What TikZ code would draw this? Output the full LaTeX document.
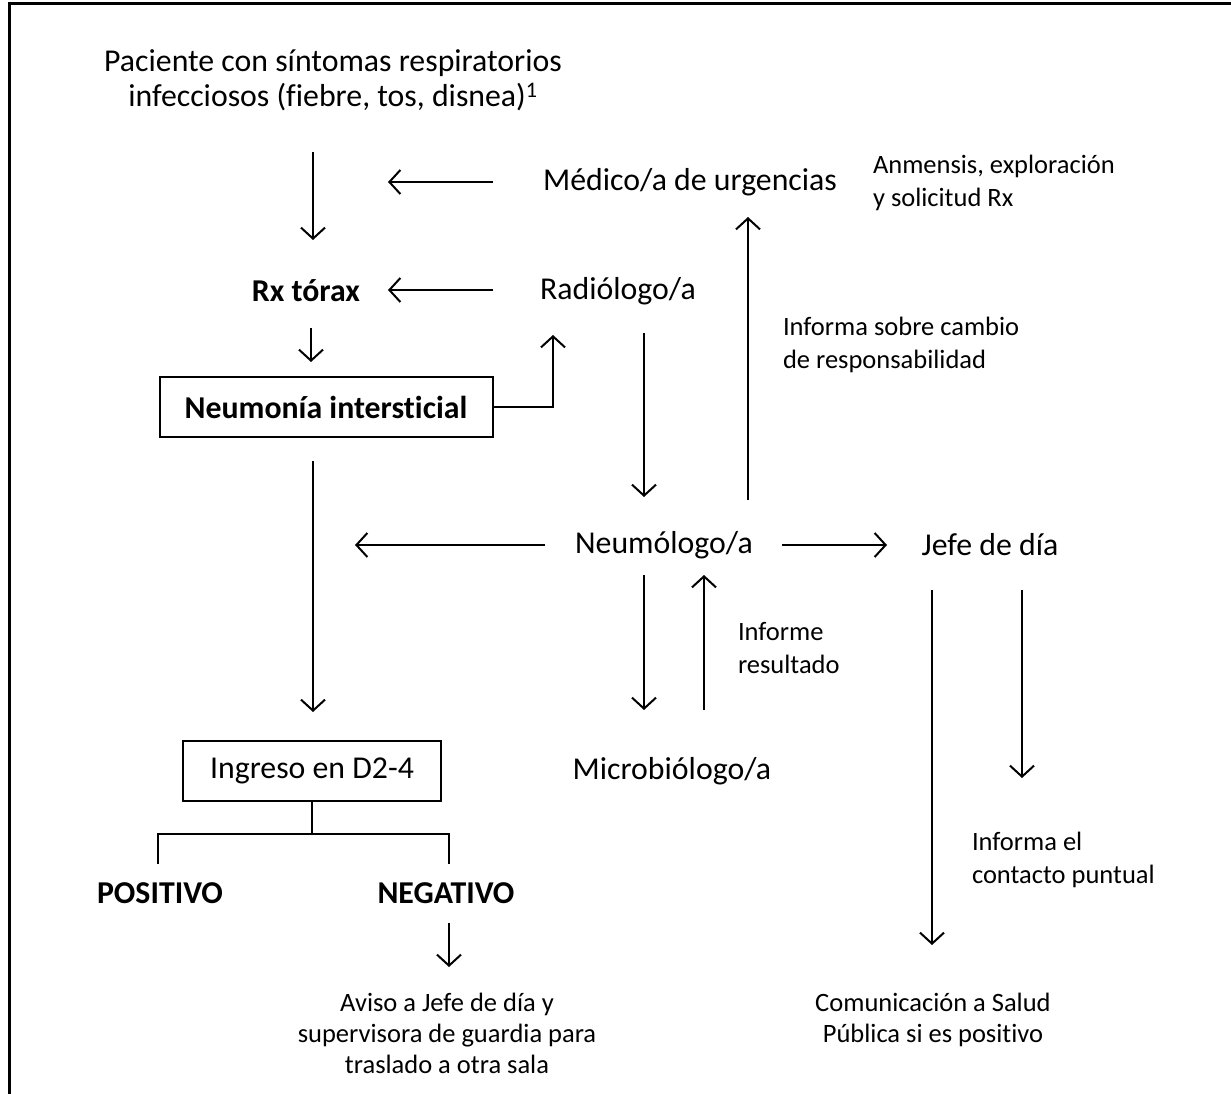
\documentclass[tikz,border=0pt]{standalone}
\usepackage{fontspec}
\setmainfont{Carlito}[Ligatures=NoCommon]
\usetikzlibrary{arrows.meta}
\newcommand{\myarr}[3]{\coordinate (#1s) at (#2); \coordinate (#1e) at (#3); \draw[arr] (#1s) -- (#1e);}
\begin{document}
\begin{tikzpicture}[x=1pt,y=-1pt,
  every node/.style={inner sep=0pt, outer sep=0pt},
  big/.style={font=\fontsize{31.8}{35}\selectfont, align=center},
  bigb/.style={font=\fontsize{31.8}{35}\selectfont\bfseries, align=center},
  small/.style={font=\fontsize{26.5}{33}\selectfont, align=left},
  smallc/.style={font=\fontsize{26.5}{31}\selectfont, align=center},
  boxed/.style={draw, line width=2pt},
  arr/.style={line width=2pt, -{Straight Barb[length=11pt,width=24pt,line width=2pt]}},
  ln/.style={line width=2pt}]
\useasboundingbox (0,0) rectangle (1231,1094);
\draw[line width=3pt] (9,1094) -- (9,4) -- (1231,4);

% nodes
\node[big] (pac) at (333,80) {Paciente con síntomas respiratorios\\infecciosos (fiebre, tos, disnea)\textsuperscript{1}};
\node[big] (med) at (690,182) {Médico/a de urgencias};
\node[small, anchor=west] (anm) at (873,183) {Anmensis, exploración\\y solicitud Rx};
\node[bigb] (rx) at (306,291) {Rx tórax};
\node[big] (rad) at (618,291) {Radiólogo/a};
\node[small, anchor=west] (inf) at (783,345) {Informa sobre cambio\\de responsabilidad};
\node[bigb, boxed, minimum width=333pt, minimum height=60pt] (neu) at (326,407) {Neumonía intersticial};
\node[big] (neumo) at (664,545) {Neumólogo/a};
\node[big] (jefe) at (990,545) {Jefe de día};
\node[small, anchor=west] (infr) at (738,648) {Informe\\resultado};
\node[big] (micro) at (672,771) {Microbiólogo/a};
\node[big, boxed, minimum width=258pt, minimum height=60pt] (ing) at (312,771) {Ingreso en D2-4};
\node[bigb] (pos) at (160,893) {POSITIVO};
\node[bigb] (neg) at (446,893) {NEGATIVO};
\node[small, anchor=west] (cont) at (972,860) {Informa el\\contacto puntual};
\node[smallc] (aviso) at (447,1033) {Aviso a Jefe de día y\\supervisora de guardia para\\traslado a otra sala};
\node[smallc] (com) at (933,1020) {Comunicación a Salud\\Pública si es positivo};

% arrows
\myarr{a1}{313,152}{313,240}
\myarr{a2}{493,182}{388,182}
\myarr{a3}{493,290}{388,290}
\myarr{a4}{311,328}{311,362}
\coordinate (a5c) at (553,407);
\coordinate (a5e) at (553,335);
\draw[arr] (neu.east) -- (a5c) -- (a5e);
\myarr{a6}{644,333}{644,497}
\myarr{a7}{748,500}{748,217}
\myarr{a8}{545,545}{355,545}
\myarr{a9}{782,545}{887,545}
\myarr{a10}{313,461}{313,712}
\myarr{a11}{644,575}{644,710}
\myarr{a12}{704,710}{704,575}
\myarr{a13}{932,590}{932,945}
\myarr{a14}{1022,590}{1022,778}
% tree
\coordinate (tm) at (312,834);
\coordinate (tl) at (158,834);
\coordinate (tr) at (449,834);
\coordinate (tle) at (158,864);
\coordinate (tre) at (449,864);
\draw[ln] (ing.south) -- (tm);
\draw[ln] (tle) -- (tl) -- (tr) -- (tre);
\myarr{a15}{449,923}{449,967}
\end{tikzpicture}
\end{document}
